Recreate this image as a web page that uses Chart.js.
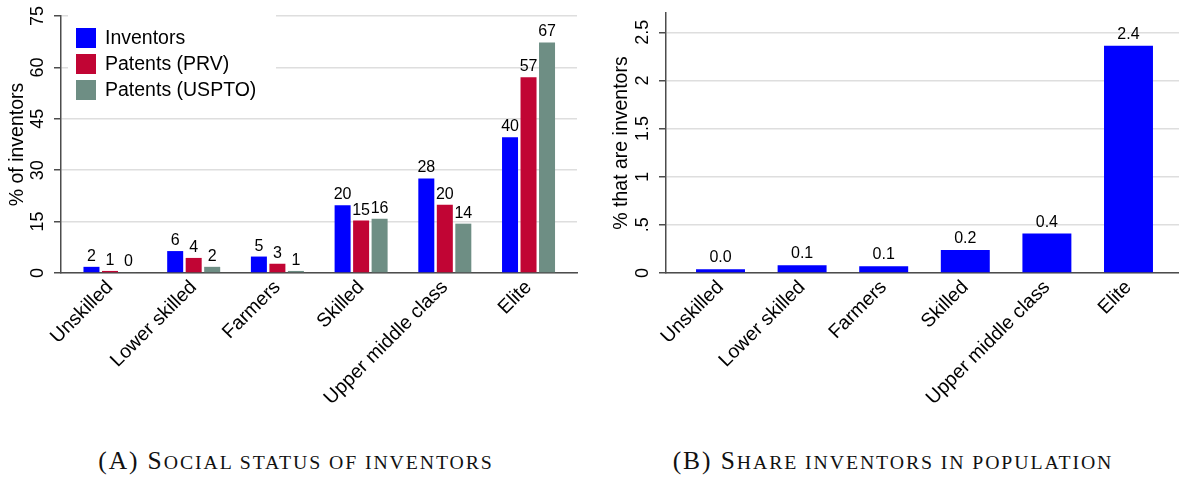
<!DOCTYPE html>
<html>
<head>
<meta charset="utf-8">
<script src="https://cdn.jsdelivr.net/npm/chart.js@4/dist/chart.umd.min.js"></script>
<style>
  html, body { margin: 0; padding: 0; background: #fff; }
  #wrap { position: relative; width: 1179px; height: 479px; overflow: hidden; background: #fff; }
  canvas { position: absolute; top: 0; }
  #cA { left: 0; }
  #cB { left: 590px; }
  .cap {
    position: absolute; top: 446px; text-align: center;
    font-family: "Liberation Serif", "DejaVu Serif", serif;
    font-size: 25.5px; color: #111; white-space: nowrap; letter-spacing: 1.9px;
  }
  .cap .sc { font-size: 19.8px; }
  #capA { left: 0; width: 592px; }
  #capB { left: 598px; width: 590px; }
</style>
</head>
<body>
<div id="wrap">
  <canvas id="cA" width="590" height="430"></canvas>
  <canvas id="cB" width="589" height="430"></canvas>
  <div class="cap" id="capA">(A) S<span class="sc">OCIAL STATUS OF INVENTORS</span></div>
  <div class="cap" id="capB">(B) S<span class="sc">HARE INVENTORS IN POPULATION</span></div>
</div>
<script>
// Occupational groups, shared by both panels
const categories = ['Unskilled', 'Lower skilled', 'Farmers', 'Skilled', 'Upper middle class', 'Elite'];

// Panel A: % of inventors / patents by social status
const inventorsPct = [1.8, 6.4, 4.8, 19.8, 27.6, 39.6];
const patentsPRV   = [0.6, 4.4, 2.7, 15.3, 19.9, 57.1];
const patentsUSPTO = [0.2, 1.8, 0.6, 15.8, 14.4, 67.3];
const seriesNamesA = ['Inventors', 'Patents (PRV)', 'Patents (USPTO)'];
const yTicksA = [0, 15, 30, 45, 60, 75];
const yTickLabelsA = ['0', '15', '30', '45', '60', '75'];

// Panel B: share of each group that are inventors
const shareInventors = [0.04, 0.08, 0.07, 0.24, 0.41, 2.36];
const yTicksB = [0, 0.5, 1, 1.5, 2, 2.5];
const yTickLabelsB = ['0', '.5', '1', '1.5', '2', '2.5'];

const BLUE = '#0000ff', RED = '#c10534', GREEN = '#6e8e84';
const AXIS = '#4d4d4d', GRID = '#dedede';
const SANS = '"Liberation Sans", Arial, Helvetica, sans-serif';

Chart.defaults.font.family = SANS;
Chart.defaults.color = '#000';

// Rotated y tick labels and y axis title
function yAxisTextPlugin(tickLabels, labelX, title, titleX) {
  return {
    id: 'yAxisText',
    afterDraw(chart) {
      const ctx = chart.ctx, y = chart.scales.y, area = chart.chartArea;
      ctx.save();
      ctx.fillStyle = '#000';
      ctx.textAlign = 'center';
      ctx.textBaseline = 'middle';
      ctx.font = '18px ' + SANS;
      y.ticks.forEach((t, i) => {
        ctx.save();
        ctx.translate(labelX, y.getPixelForValue(t.value));
        ctx.rotate(-Math.PI / 2);
        ctx.fillText(tickLabels[i], 0, 0);
        ctx.restore();
      });
      ctx.font = '19.5px ' + SANS;
      ctx.translate(titleX, (area.top + area.bottom) / 2);
      ctx.rotate(-Math.PI / 2);
      ctx.fillText(title, 0, 0);
      ctx.restore();
    }
  };
}

// Value labels above each bar
function valueLabelPlugin(fmt, gap) {
  return {
    id: 'valueLabels',
    afterDatasetsDraw(chart) {
      const ctx = chart.ctx;
      ctx.save();
      ctx.fillStyle = '#000';
      ctx.font = '16px ' + SANS;
      ctx.textAlign = 'center';
      ctx.textBaseline = 'alphabetic';
      chart.data.datasets.forEach((ds, di) => {
        chart.getDatasetMeta(di).data.forEach((bar, i) => {
          ctx.fillText(fmt(ds.data[i].y), bar.x, bar.y - gap);
        });
      });
      ctx.restore();
    }
  };
}

// Legend drawn inside the plot area, on a white panel
const insideLegend = {
  id: 'insideLegend',
  afterDraw(chart) {
    const ctx = chart.ctx;
    ctx.save();
    ctx.fillStyle = '#fff';
    ctx.fillRect(68, 8, 208, 102);
    ctx.font = '19.5px ' + SANS;
    ctx.textBaseline = 'middle';
    ctx.textAlign = 'left';
    chart.data.datasets.forEach((ds, i) => {
      const top = 28 + i * 26;
      ctx.fillStyle = ds.backgroundColor;
      ctx.fillRect(76, top, 20, 20);
      ctx.fillStyle = '#000';
      ctx.fillText(ds.label, 105, top + 10.5);
    });
    ctx.restore();
  }
};

function xScale(min, max) {
  return {
    type: 'linear', min: min, max: max, offset: false,
    afterBuildTicks: s => { s.ticks = categories.map((c, i) => ({ value: i })); },
    afterFit: s => { s.height = 157; },
    ticks: {
      callback: v => categories[v],
      autoSkip: false, maxRotation: 45, minRotation: 45,
      font: { size: 19.5 }, color: '#000', padding: 3
    },
    grid: { display: false, drawTicks: false, offset: false },
    border: { display: true, color: AXIS, width: 1.5 }
  };
}

function yScale(max, ticks, width) {
  return {
    min: 0, max: max,
    afterBuildTicks: s => { s.ticks = ticks.map(v => ({ value: v })); },
    afterFit: s => { s.width = width; },
    ticks: { display: false },
    grid: {
      color: GRID, lineWidth: 1.5, drawTicks: true,
      tickLength: 7, tickColor: AXIS, tickWidth: 1.5
    },
    border: { display: true, color: AXIS, width: 1.5 }
  };
}

const pts = arr => arr.map((v, i) => ({ x: i, y: v }));

new Chart(document.getElementById('cA'), {
  type: 'bar',
  data: {
    datasets: [
      { label: seriesNamesA[0], data: pts(inventorsPct), backgroundColor: BLUE },
      { label: seriesNamesA[1], data: pts(patentsPRV), backgroundColor: RED },
      { label: seriesNamesA[2], data: pts(patentsUSPTO), backgroundColor: GREEN }
    ]
  },
  options: {
    responsive: false, animation: false, devicePixelRatio: 1,
    layout: { padding: { top: 16, right: 13, left: 0, bottom: 0 } },
    datasets: { bar: { categoryPercentage: 0.663, barPercentage: 0.865 } },
    plugins: { legend: { display: false }, tooltip: { enabled: false } },
    scales: { x: xScale(-0.585, 5.579), y: yScale(75, yTicksA, 61) }
  },
  plugins: [
    yAxisTextPlugin(yTickLabelsA, 38.5, '% of inventors', 17.5),
    valueLabelPlugin(v => String(Math.round(v)), 6),
    insideLegend
  ]
});

new Chart(document.getElementById('cB'), {
  type: 'bar',
  data: {
    datasets: [
      { label: 'Share inventors', data: pts(shareInventors), backgroundColor: BLUE }
    ]
  },
  options: {
    responsive: false, animation: false, devicePixelRatio: 1,
    layout: { padding: { top: 13, right: 0, left: 0, bottom: 0 } },
    datasets: { bar: { categoryPercentage: 0.6, barPercentage: 1 } },
    plugins: { legend: { display: false }, tooltip: { enabled: false } },
    scales: { x: xScale(-0.668, 5.619), y: yScale(2.7, yTicksB, 76) }
  },
  plugins: [
    yAxisTextPlugin(yTickLabelsB, 53, '% that are inventors', 31.5),
    valueLabelPlugin(v => v.toFixed(1), 7)
  ]
});
</script>
</body>
</html>
